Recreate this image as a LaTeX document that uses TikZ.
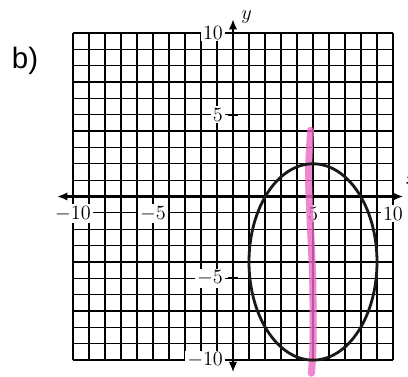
\documentclass[tikz,border=0pt]{standalone}
\usepackage{fontspec}
\newfontfamily\labelsans{Liberation Sans}
\usetikzlibrary{arrows.meta}
\definecolor{hilite}{RGB}{234,105,195}
\begin{document}
\begin{tikzpicture}[x=0.4cm,y=0.409cm,
  gridline/.style={line width=0.9pt,black},
  axisline/.style={line width=1.5pt,black,{Latex[length=2.6mm,width=2.1mm]}-{Latex[length=2.6mm,width=2.1mm]}},
  tickmark/.style={line width=1.2pt,black},
  ticklabel/.style={fill=white,inner sep=1.3pt,font=\fontsize{15}{17}\selectfont},
  curve/.style={line width=2pt,black!90},
  marker/.style={line width=5pt,hilite,opacity=0.8,line cap=round}]
\useasboundingbox[fill=white] (-5.825cm,-4.4875cm) rectangle (4.375cm,4.9125cm);
% grid
\foreach \i in {-10,...,10} {
  \draw[gridline] (\i,-10) -- (\i,10);
  \draw[gridline] (-10,\i) -- (10,\i);
}
% axes
\coordinate (xl) at (-11,0);
\coordinate (xr) at (10.65,0);
\coordinate (yb) at (0,-10.75);
\coordinate (yt) at (0,10.85);
\draw[axisline] (xl) -- (xr);
\draw[axisline] (yb) -- (yt);
\foreach \v in {-10,-5,5,10} {
  \draw[tickmark] (\v,-0.3) -- (\v,0.3);
  \draw[tickmark] (-0.3,\v) -- (0.3,\v);
}
% labels
\node[ticklabel] (xm10) at (-10,-1.05) {$-10$};
\node[ticklabel] (xm5) at (-5,-1.05) {$-5$};
\node[ticklabel] (xp5) at (5,-1.05) {$5$};
\node[ticklabel] (xp10) at (10,-1.05) {$10$};
\node[ticklabel,anchor=east] (yp10) at (-0.5,10) {$10$};
\node[ticklabel,anchor=east] (yp5) at (-0.5,5) {$5$};
\node[ticklabel,anchor=east] (ym5) at (-0.5,-5) {$-5$};
\node[ticklabel,anchor=east] (ym10) at (-0.5,-10) {$-10$};
\node[font=\fontsize{15}{17}\selectfont] (xlab) at (11.15,1.0) {$x$};
\node[font=\fontsize{15}{17}\selectfont] (ylab) at (0.85,10.95) {$y$};
\node[font=\labelsans\fontsize{21}{24}\selectfont] (part) at (-13,8.3) {b)};
% highlighter stroke
\draw[marker] plot[smooth] coordinates {(4.85,4.05) (4.72,1.5) (4.8,-1) (4.98,-5) (5.0,-9) (4.9,-10.8)};
% ellipse
\draw[curve] (5,-4) ellipse [x radius=4, y radius=6];
\end{tikzpicture}
\end{document}
